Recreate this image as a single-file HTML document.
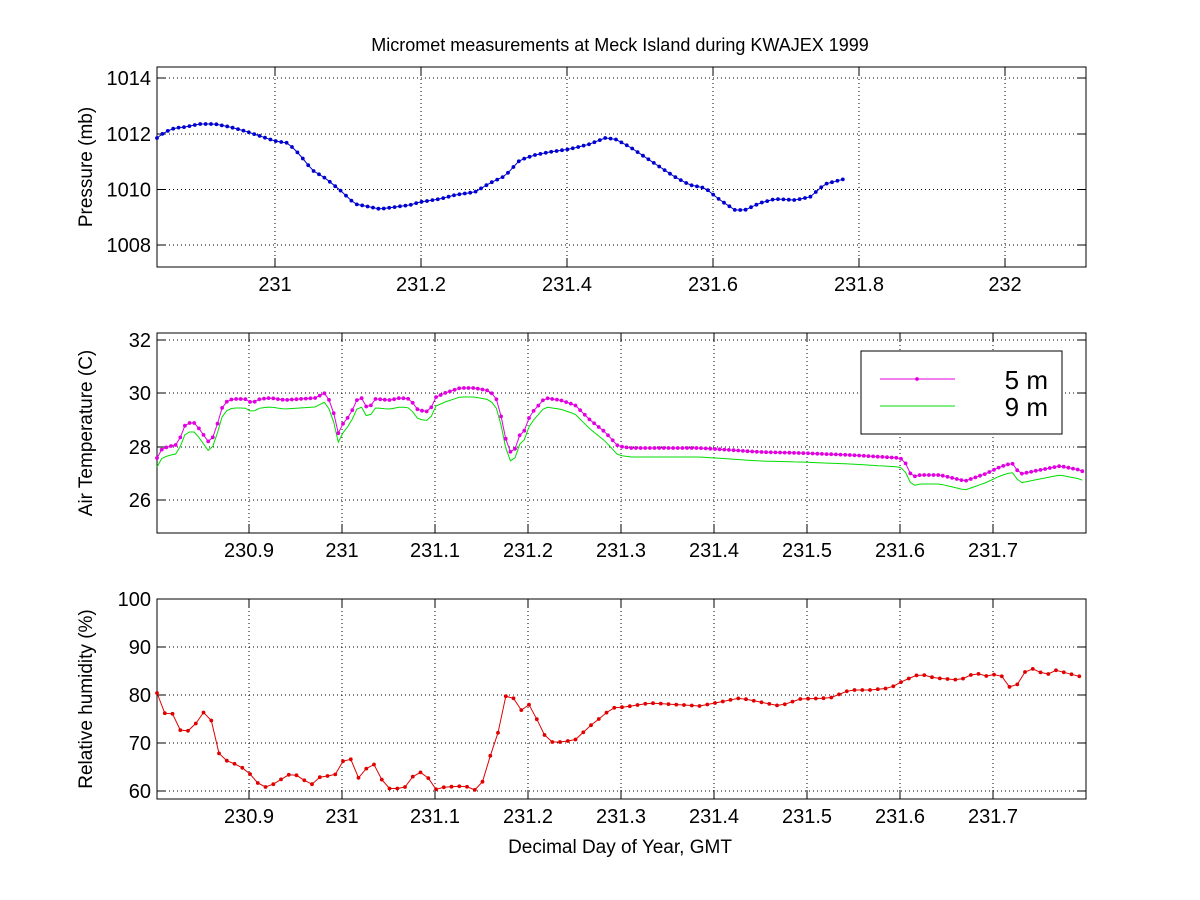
<!DOCTYPE html>
<html><head><meta charset="utf-8"><style>body{margin:0;background:#fff}svg{display:block}text{font-family:"Liberation Sans",sans-serif;fill:#000}</style></head>
<body>
<svg id="s" width="1200" height="900" xmlns="http://www.w3.org/2000/svg"></svg>
<script>
const S=document.getElementById('s');let h='';
h+='<text x="620" y="51" font-size="18" text-anchor="middle">Micromet measurements at Meck Island during KWAJEX 1999</text>';
function panel(t,b,xt,yt,ylab){
 const L=157,R=1086;
 xt.forEach(([x,l])=>{h+=`<line x1="${x}" y1="${t}" x2="${x}" y2="${b}" stroke="#000" stroke-width="1" stroke-dasharray="1,3"/>`;
  h+=`<line x1="${x}" y1="${b}" x2="${x}" y2="${b-9}" stroke="#000"/><line x1="${x}" y1="${t}" x2="${x}" y2="${t+9}" stroke="#000"/>`;
  h+=`<text x="${x}" y="${b+24}" font-size="20" text-anchor="middle">${l}</text>`;});
 yt.forEach(([y,l])=>{h+=`<line x1="${L}" y1="${y}" x2="${R}" y2="${y}" stroke="#000" stroke-width="1" stroke-dasharray="1,3"/>`;
  h+=`<line x1="${L}" y1="${y}" x2="${L+9}" y2="${y}" stroke="#000"/><line x1="${R}" y1="${y}" x2="${R-9}" y2="${y}" stroke="#000"/>`;
  h+=`<text x="${L-6}" y="${y+7}" font-size="20" text-anchor="end">${l}</text>`;});
 h+=`<rect x="${L}" y="${t}" width="${R-L}" height="${b-t}" fill="none" stroke="#000"/>`;
 const cy=(t+b)/2;h+=`<text transform="translate(${L-65},${cy}) rotate(-90)" font-size="19" text-anchor="middle">${ylab}</text>`;
}
function interp(k,step){const o=[];for(let x=k[0][0];x<=k[k.length-1][0];x+=step){let i=0;while(i<k.length-2&&k[i+1][0]<x)i++;const a=k[i],c=k[i+1];const f=(x-a[0])/(c[0]-a[0]);o.push([x,a[1]+f*(c[1]-a[1])]);}return o;}
function series(p,col,mk,off=0){h+=`<polyline fill="none" stroke="${col}" stroke-width="1" points="${p.map(q=>q[0].toFixed(1)+','+(q[1]+off).toFixed(1)).join(' ')}"/>`;
 if(mk)p.forEach(q=>{h+=`<circle cx="${q[0].toFixed(1)}" cy="${(q[1]+off).toFixed(1)}" r="1.9" fill="${col}"/>`;});}
panel(67,267,[[275,231],[421,'231.2'],[567,'231.4'],[713,'231.6'],[859,'231.8'],[1005,232]],[[78,1014],[134,1012],[189.5,1010],[245,1008]],'Pressure (mb)');
const P=[[157,138],[165,132],[175,128],[185,127],[200,124],[215,124],[230,127],[245,131],[260,136],[275,141],[288,143],[300,155],[312,170],[325,178],[340,190],[355,204],[370,207],[380,209],[395,207],[410,205],[420,202],[440,199],[455,195],[475,192],[490,183],[505,176],[520,160],[535,155],[550,152],[570,149],[590,144],[605,138],[615,139],[630,147],[645,157],[660,167],[675,177],[690,185],[705,188],[720,200],[735,210],[745,210],[760,203],[775,199],[795,200],[810,197],[825,184],[848,178]];
series(interp(P,5.4),'#0000d0',true);
panel(333,533,[[249,'230.9'],[342,'231'],[435,'231.1'],[528,'231.2'],[621,'231.3'],[714,'231.4'],[807,'231.5'],[900,'231.6'],[993,'231.7']],[[340,32],[393,30],[447,28],[500,26]],'Air Temperature (C)');
const T=[[157,458],[162,449],[170,446],[175,446],[180,438],[186,423],[190,423],[195,423],[200,430],[205,437],[210,444],[215,432],[222,408],[228,400],[235,399],[245,399],[252,403],[260,399],[270,398],[285,400],[300,399],[315,398],[325,393],[332,405],[338,434],[342,425],[350,415],[357,400],[362,398],[368,410],[375,399],[390,400],[400,398],[410,399],[418,410],[430,412],[434,398],[445,393],[460,388],[475,388],[490,391],[497,400],[502,420],[507,445],[513,457],[518,437],[525,430],[530,415],[545,398],[560,400],[575,405],[590,420],[605,432],[618,446],[630,448],[700,448],[760,452],[800,453],[850,455],[900,458],[905,462],[912,477],[920,475],[940,475],[965,481],[985,474],[1000,467],[1012,463],[1020,474],[1030,472],[1060,466],[1080,470],[1086,473]];
const TP=interp(T,4.65);
series(TP,'#00dd00',false,9);
series(TP,'#e000e0',true);
h+='<rect x="861" y="351" width="201" height="83" fill="#fff" stroke="#000"/>';
h+='<line x1="880" y1="379" x2="955" y2="379" stroke="#e000e0"/><circle cx="917" cy="379" r="1.9" fill="#e000e0"/><text x="1048" y="389" font-size="26" text-anchor="end">5 m</text>';
h+='<line x1="880" y1="406" x2="955" y2="406" stroke="#00dd00"/><text x="1048" y="416" font-size="26" text-anchor="end">9 m</text>';
panel(599,799,[[249,'230.9'],[342,'231'],[435,'231.1'],[528,'231.2'],[621,'231.3'],[714,'231.4'],[807,'231.5'],[900,'231.6'],[993,'231.7']],[[599,100],[647,90],[695,80],[743,70],[791,60]],'Relative humidity (%)');
const H=[[157,693],[162,713],[175,714],[180,730],[185,733],[193,727],[200,718],[207,707],[213,726],[220,758],[230,762],[240,766],[250,774],[262,788],[272,785],[280,780],[290,774],[300,776],[310,786],[320,777],[335,775],[340,763],[350,757],[357,778],[363,777],[370,759],[378,770],[385,788],[395,789],[405,787],[412,777],[425,770],[433,790],[445,787],[465,786],[475,790],[484,780],[490,756],[495,752],[500,720],[507,691],[515,700],[520,711],[530,704],[538,722],[548,742],[560,742],[575,740],[590,726],[600,718],[612,708],[625,707],[650,703],[700,706],[740,698],[760,702],[780,706],[800,699],[830,698],[850,690],[870,690],[890,688],[905,680],[920,674],[935,678],[960,680],[975,673],[990,677],[1000,671],[1005,686],[1015,688],[1025,672],[1035,668],[1045,676],[1055,670],[1086,678]];
series(interp(H,7.75),'#e00000',true);
h+='<text x="620" y="853" font-size="19" text-anchor="middle">Decimal Day of Year, GMT</text>';
S.innerHTML=h;
</script>
</body></html>
